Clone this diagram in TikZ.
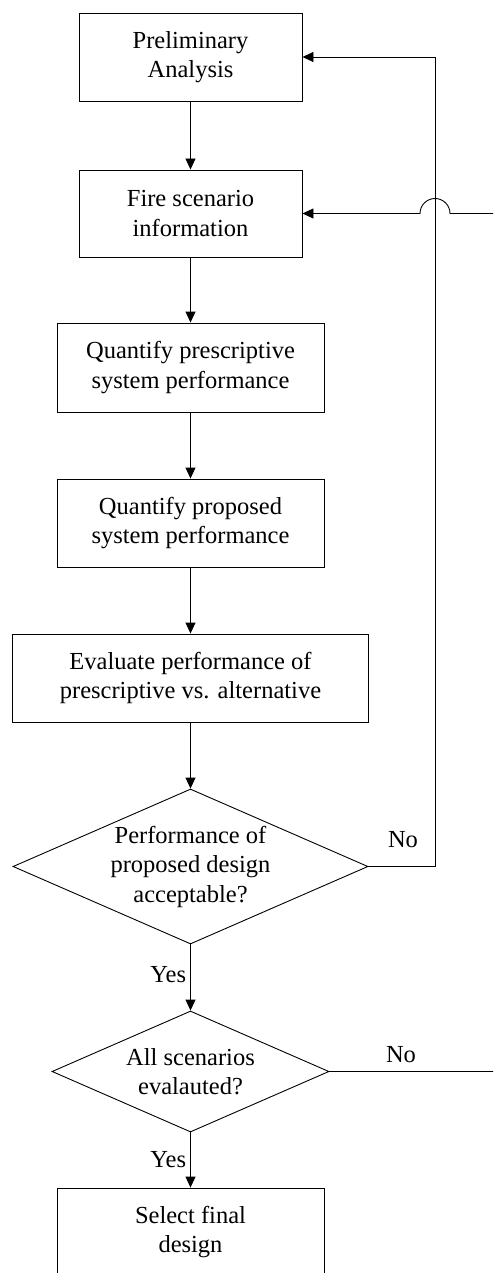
\documentclass[tikz,border=0pt]{standalone}
\usepackage{fontspec}
\setmainfont{Liberation Serif}
\usetikzlibrary{arrows.meta,shapes.geometric}
\begin{document}
\begin{tikzpicture}[x=1pt,y=-1pt,
  line width=0.9pt,
  font=\fontsize{24.5}{29.5}\selectfont,
  stepbox/.style={draw, rectangle, inner sep=0pt, align=center},
  decision/.style={draw, diamond, inner sep=0pt},
  label text/.style={align=center, inner sep=0pt},
  flow/.style={-{Triangle[length=11pt,width=10pt]}},
  plain/.style={-}]
\clip (0,0) rectangle (493,1273);
\fill[white] (0,0) rectangle (493,1273);

% process boxes
\node[stepbox, minimum width=223pt, minimum height=88pt] (b1) at (190.5,57) {Preliminary\\Analysis};
\node[stepbox, minimum width=223pt, minimum height=87pt] (b2) at (190.5,213.5) {Fire scenario\\information};
\node[stepbox, minimum width=267pt, minimum height=89pt] (b3) at (190.5,367.5) {Quantify prescriptive\\system performance};
\node[stepbox, minimum width=267pt, minimum height=88pt] (b4) at (190.5,523) {Quantify proposed\\system performance};
\node[stepbox, minimum width=356pt, minimum height=88pt] (b5) at (190.5,678) {Evaluate performance of\\prescriptive vs. alternative};

% decisions
\node[decision, minimum width=355pt, minimum height=155pt] (d1) at (190.5,866.5) {};
\node[label text] (t1) at (190.5,866.5) {Performance of\\proposed design\\acceptable?};
\node[decision, minimum width=277pt, minimum height=121pt] (d2) at (190.5,1071.5) {};
\node[label text] (t2) at (190.5,1071.5) {All scenarios\\evalauted?};

% final box (runs past the lower edge)
\node[stepbox, minimum width=267pt, minimum height=88pt] (b6) at (190.5,1232) {Select final\\design};

% main flow
\draw[flow] (b1) -- (b2);
\draw[flow] (b2) -- (b3);
\draw[flow] (b3) -- (b4);
\draw[flow] (b4) -- (b5);
\draw[flow] (b5) -- (d1);
\draw[flow] (d1) -- node[pos=0.45, left, inner sep=4pt] (yes1) {Yes} (d2);
\draw[flow] (d2) -- node[pos=0.5, left, inner sep=4pt] (yes2) {Yes} (b6.north);

% "No" loop back to the preliminary analysis
\coordinate (r1) at (435,866.5);
\coordinate (r2) at (435,57);
\draw[flow] (d1.east) -- (r1) -- (r2) -- (b1.east);
\node[label text] (no1) at (403,840) {No};

% "No" loop back to the scenario information, hopping over the line above
\coordinate (e2) at (500,1071.5);
\draw[plain] (d2.east) -- (e2);
\node[label text] (no2) at (401,1055) {No};
\coordinate (e1) at (500,213.5);
\coordinate (h1) at (450,213.5);
\draw[flow] (e1) -- (h1) arc[start angle=0, end angle=-180, radius=15] -- (b2.east);
\end{tikzpicture}
\end{document}
